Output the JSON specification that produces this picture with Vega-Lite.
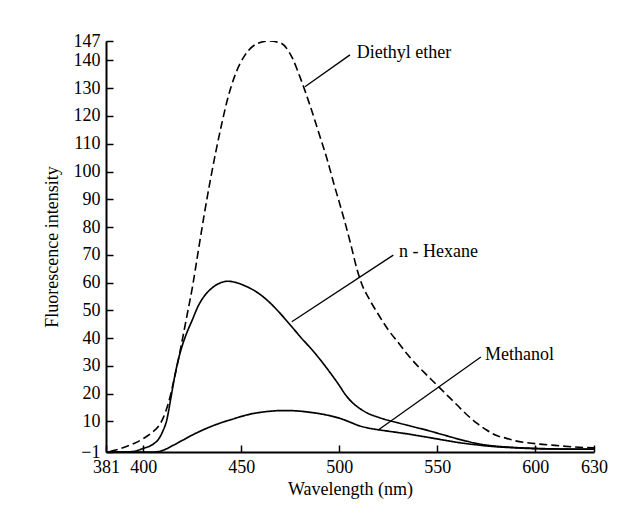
{
  "$schema": "https://vega.github.io/schema/vega-lite/v6.json",
  "width": 488,
  "height": 411,
  "autosize": {"type": "none"},
  "padding": {"left": 106, "top": 41, "right": 40, "bottom": 67},
  "background": "white",
  "config": {
    "view": {"stroke": null},
    "font": "Liberation Serif",
    "axis": {
      "grid": false,
      "domainColor": "black",
      "domainWidth": 2,
      "tickColor": "black",
      "tickWidth": 1.5,
      "labelFont": "Liberation Serif",
      "labelFontSize": 18,
      "labelColor": "black",
      "labelFlush": false,
      "labelOverlap": false,
      "labelBound": false,
      "titleFont": "Liberation Serif",
      "titleFontSize": 18,
      "titleFontWeight": "normal",
      "titleColor": "black"
    }
  },
  "datasets": {
    "curves": [
      {"wl": 383, "v": -0.8, "s": "Diethyl ether"},
      {"wl": 386, "v": -0.3, "s": "Diethyl ether"},
      {"wl": 390, "v": 0.6, "s": "Diethyl ether"},
      {"wl": 395, "v": 2, "s": "Diethyl ether"},
      {"wl": 400, "v": 3.8, "s": "Diethyl ether"},
      {"wl": 405, "v": 6.3, "s": "Diethyl ether"},
      {"wl": 408, "v": 8.5, "s": "Diethyl ether"},
      {"wl": 410, "v": 11, "s": "Diethyl ether"},
      {"wl": 413, "v": 17, "s": "Diethyl ether"},
      {"wl": 416, "v": 26, "s": "Diethyl ether"},
      {"wl": 419, "v": 36, "s": "Diethyl ether"},
      {"wl": 422, "v": 47, "s": "Diethyl ether"},
      {"wl": 425, "v": 58, "s": "Diethyl ether"},
      {"wl": 428, "v": 71, "s": "Diethyl ether"},
      {"wl": 431, "v": 84, "s": "Diethyl ether"},
      {"wl": 434, "v": 96, "s": "Diethyl ether"},
      {"wl": 437, "v": 107, "s": "Diethyl ether"},
      {"wl": 440, "v": 117, "s": "Diethyl ether"},
      {"wl": 443, "v": 126, "s": "Diethyl ether"},
      {"wl": 447, "v": 135, "s": "Diethyl ether"},
      {"wl": 452, "v": 142, "s": "Diethyl ether"},
      {"wl": 458, "v": 146, "s": "Diethyl ether"},
      {"wl": 464, "v": 147, "s": "Diethyl ether"},
      {"wl": 470, "v": 146.3, "s": "Diethyl ether"},
      {"wl": 476, "v": 141, "s": "Diethyl ether"},
      {"wl": 480, "v": 134, "s": "Diethyl ether"},
      {"wl": 485, "v": 124, "s": "Diethyl ether"},
      {"wl": 490, "v": 113, "s": "Diethyl ether"},
      {"wl": 494, "v": 104, "s": "Diethyl ether"},
      {"wl": 497.5, "v": 95, "s": "Diethyl ether"},
      {"wl": 500, "v": 89, "s": "Diethyl ether"},
      {"wl": 503, "v": 81.5, "s": "Diethyl ether"},
      {"wl": 506, "v": 73.5, "s": "Diethyl ether"},
      {"wl": 509, "v": 65, "s": "Diethyl ether"},
      {"wl": 511.5, "v": 59.5, "s": "Diethyl ether"},
      {"wl": 515, "v": 54.5, "s": "Diethyl ether"},
      {"wl": 520, "v": 48.5, "s": "Diethyl ether"},
      {"wl": 525, "v": 43, "s": "Diethyl ether"},
      {"wl": 530, "v": 38.5, "s": "Diethyl ether"},
      {"wl": 535, "v": 34, "s": "Diethyl ether"},
      {"wl": 540, "v": 30, "s": "Diethyl ether"},
      {"wl": 545, "v": 26.5, "s": "Diethyl ether"},
      {"wl": 550, "v": 23, "s": "Diethyl ether"},
      {"wl": 555, "v": 19.5, "s": "Diethyl ether"},
      {"wl": 560, "v": 16, "s": "Diethyl ether"},
      {"wl": 565, "v": 12.5, "s": "Diethyl ether"},
      {"wl": 570, "v": 9.5, "s": "Diethyl ether"},
      {"wl": 575, "v": 7, "s": "Diethyl ether"},
      {"wl": 580, "v": 5, "s": "Diethyl ether"},
      {"wl": 585, "v": 4, "s": "Diethyl ether"},
      {"wl": 590, "v": 3, "s": "Diethyl ether"},
      {"wl": 600, "v": 2, "s": "Diethyl ether"},
      {"wl": 610, "v": 1.4, "s": "Diethyl ether"},
      {"wl": 620, "v": 0.8, "s": "Diethyl ether"},
      {"wl": 630, "v": 0.5, "s": "Diethyl ether"},

      {"wl": 381, "v": -1, "s": "n - Hexane"},
      {"wl": 390, "v": -1, "s": "n - Hexane"},
      {"wl": 395, "v": -0.8, "s": "n - Hexane"},
      {"wl": 400, "v": 0.3, "s": "n - Hexane"},
      {"wl": 405, "v": 1.8, "s": "n - Hexane"},
      {"wl": 408, "v": 3.8, "s": "n - Hexane"},
      {"wl": 410, "v": 6.5, "s": "n - Hexane"},
      {"wl": 412, "v": 10.5, "s": "n - Hexane"},
      {"wl": 414, "v": 18, "s": "n - Hexane"},
      {"wl": 416, "v": 26, "s": "n - Hexane"},
      {"wl": 418, "v": 32.5, "s": "n - Hexane"},
      {"wl": 420, "v": 37.5, "s": "n - Hexane"},
      {"wl": 422, "v": 41.5, "s": "n - Hexane"},
      {"wl": 425, "v": 46.5, "s": "n - Hexane"},
      {"wl": 428, "v": 51.5, "s": "n - Hexane"},
      {"wl": 431, "v": 55, "s": "n - Hexane"},
      {"wl": 435, "v": 58, "s": "n - Hexane"},
      {"wl": 439, "v": 59.8, "s": "n - Hexane"},
      {"wl": 443, "v": 60.5, "s": "n - Hexane"},
      {"wl": 447, "v": 60.1, "s": "n - Hexane"},
      {"wl": 452, "v": 58.8, "s": "n - Hexane"},
      {"wl": 457, "v": 57, "s": "n - Hexane"},
      {"wl": 461, "v": 55, "s": "n - Hexane"},
      {"wl": 465, "v": 52.5, "s": "n - Hexane"},
      {"wl": 469, "v": 49.6, "s": "n - Hexane"},
      {"wl": 473, "v": 46.4, "s": "n - Hexane"},
      {"wl": 477, "v": 43.1, "s": "n - Hexane"},
      {"wl": 481, "v": 39.8, "s": "n - Hexane"},
      {"wl": 485, "v": 36.7, "s": "n - Hexane"},
      {"wl": 489, "v": 33.4, "s": "n - Hexane"},
      {"wl": 493, "v": 29.8, "s": "n - Hexane"},
      {"wl": 497, "v": 26, "s": "n - Hexane"},
      {"wl": 500, "v": 23, "s": "n - Hexane"},
      {"wl": 503, "v": 19.8, "s": "n - Hexane"},
      {"wl": 507, "v": 16.6, "s": "n - Hexane"},
      {"wl": 510, "v": 14.9, "s": "n - Hexane"},
      {"wl": 515, "v": 12.8, "s": "n - Hexane"},
      {"wl": 520, "v": 11.5, "s": "n - Hexane"},
      {"wl": 525, "v": 10.4, "s": "n - Hexane"},
      {"wl": 530, "v": 9.5, "s": "n - Hexane"},
      {"wl": 535, "v": 8.6, "s": "n - Hexane"},
      {"wl": 540, "v": 7.7, "s": "n - Hexane"},
      {"wl": 545, "v": 6.8, "s": "n - Hexane"},
      {"wl": 550, "v": 5.8, "s": "n - Hexane"},
      {"wl": 555, "v": 4.8, "s": "n - Hexane"},
      {"wl": 560, "v": 3.8, "s": "n - Hexane"},
      {"wl": 565, "v": 2.9, "s": "n - Hexane"},
      {"wl": 570, "v": 2.1, "s": "n - Hexane"},
      {"wl": 575, "v": 1.5, "s": "n - Hexane"},
      {"wl": 580, "v": 1.1, "s": "n - Hexane"},
      {"wl": 590, "v": 0.6, "s": "n - Hexane"},
      {"wl": 600, "v": 0.3, "s": "n - Hexane"},
      {"wl": 610, "v": 0.1, "s": "n - Hexane"},
      {"wl": 620, "v": 0, "s": "n - Hexane"},
      {"wl": 630, "v": 0, "s": "n - Hexane"},

      {"wl": 381, "v": -1, "s": "Methanol"},
      {"wl": 400, "v": -1, "s": "Methanol"},
      {"wl": 406, "v": -1, "s": "Methanol"},
      {"wl": 410, "v": -0.4, "s": "Methanol"},
      {"wl": 415, "v": 1.3, "s": "Methanol"},
      {"wl": 420, "v": 3.2, "s": "Methanol"},
      {"wl": 425, "v": 5.1, "s": "Methanol"},
      {"wl": 430, "v": 6.8, "s": "Methanol"},
      {"wl": 435, "v": 8.3, "s": "Methanol"},
      {"wl": 440, "v": 9.6, "s": "Methanol"},
      {"wl": 445, "v": 10.7, "s": "Methanol"},
      {"wl": 450, "v": 11.8, "s": "Methanol"},
      {"wl": 455, "v": 12.7, "s": "Methanol"},
      {"wl": 460, "v": 13.3, "s": "Methanol"},
      {"wl": 465, "v": 13.7, "s": "Methanol"},
      {"wl": 470, "v": 13.9, "s": "Methanol"},
      {"wl": 475, "v": 13.9, "s": "Methanol"},
      {"wl": 480, "v": 13.7, "s": "Methanol"},
      {"wl": 485, "v": 13.3, "s": "Methanol"},
      {"wl": 490, "v": 12.8, "s": "Methanol"},
      {"wl": 495, "v": 12.1, "s": "Methanol"},
      {"wl": 500, "v": 11.2, "s": "Methanol"},
      {"wl": 505, "v": 9.9, "s": "Methanol"},
      {"wl": 510, "v": 8.5, "s": "Methanol"},
      {"wl": 515, "v": 7.6, "s": "Methanol"},
      {"wl": 520, "v": 7, "s": "Methanol"},
      {"wl": 525, "v": 6.5, "s": "Methanol"},
      {"wl": 530, "v": 6, "s": "Methanol"},
      {"wl": 535, "v": 5.5, "s": "Methanol"},
      {"wl": 540, "v": 4.9, "s": "Methanol"},
      {"wl": 545, "v": 4.3, "s": "Methanol"},
      {"wl": 550, "v": 3.7, "s": "Methanol"},
      {"wl": 555, "v": 3.1, "s": "Methanol"},
      {"wl": 560, "v": 2.5, "s": "Methanol"},
      {"wl": 565, "v": 2, "s": "Methanol"},
      {"wl": 570, "v": 1.6, "s": "Methanol"},
      {"wl": 575, "v": 1.2, "s": "Methanol"},
      {"wl": 580, "v": 0.9, "s": "Methanol"},
      {"wl": 590, "v": 0.5, "s": "Methanol"},
      {"wl": 600, "v": 0.2, "s": "Methanol"},
      {"wl": 610, "v": 0.1, "s": "Methanol"},
      {"wl": 620, "v": 0, "s": "Methanol"},
      {"wl": 630, "v": 0, "s": "Methanol"}
    ],
    "leaders": [
      {"label": "Diethyl ether", "wl": 482.5, "v": 130.5, "wl2": 505.5, "v2": 142},
      {"label": "n - Hexane", "wl": 475.8, "v": 45.9, "wl2": 527.6, "v2": 69.9},
      {"label": "Methanol", "wl": 519.9, "v": 6.9, "wl2": 572.3, "v2": 33.2}
    ],
    "labels": [
      {"label": "Diethyl ether", "wl": 508.9, "v": 142.6},
      {"label": "n - Hexane", "wl": 530.5, "v": 71.1},
      {"label": "Methanol", "wl": 574.4, "v": 33.9}
    ]
  },
  "encoding": {
    "x": {
      "field": "wl", "type": "quantitative",
      "scale": {"domain": [381, 630], "nice": false, "zero": false},
      "axis": {"title": "Wavelength (nm)", "values": [381, 400, 450, 500, 550, 600, 630], "tickSize": -7, "labelPadding": 13, "labelOverlap": false, "titlePadding": 4}
    },
    "y": {
      "field": "v", "type": "quantitative",
      "scale": {"domain": [-1, 147], "nice": false, "zero": false},
      "axis": {"title": "Fluorescence intensity", "values": [-1, 10, 20, 30, 40, 50, 60, 70, 80, 90, 100, 110, 120, 130, 140, 147], "tickSize": -7, "labelPadding": 13, "labelOverlap": false, "titlePadding": 12}
    }
  },
  "layer": [
    {
      "data": {"name": "curves"},
      "mark": {"type": "line", "interpolate": "monotone", "clip": true},
      "encoding": {
        "detail": {"field": "s"},
        "color": {"field": "s", "type": "nominal", "scale": {"domain": ["Diethyl ether", "n - Hexane", "Methanol"], "range": ["black", "black", "black"]}, "legend": null},
        "strokeDash": {"field": "s", "type": "nominal", "scale": {"domain": ["Diethyl ether", "n - Hexane", "Methanol"], "range": [[8, 4], [1, 0], [1, 0]]}, "legend": null},
        "strokeWidth": {"field": "s", "type": "nominal", "scale": {"domain": ["Diethyl ether", "n - Hexane", "Methanol"], "range": [1.6, 1.7, 2.5]}, "legend": null}
      }
    },
    {
      "data": {"name": "leaders"},
      "mark": {"type": "rule", "color": "black", "strokeWidth": 1.3},
      "encoding": {
        "x2": {"field": "wl2"},
        "y2": {"field": "v2"}
      }
    },
    {
      "data": {"name": "labels"},
      "mark": {"type": "text", "align": "left", "baseline": "middle", "font": "Liberation Serif", "fontSize": 18, "color": "black"},
      "encoding": {
        "text": {"field": "label"}
      }
    }
  ]
}
